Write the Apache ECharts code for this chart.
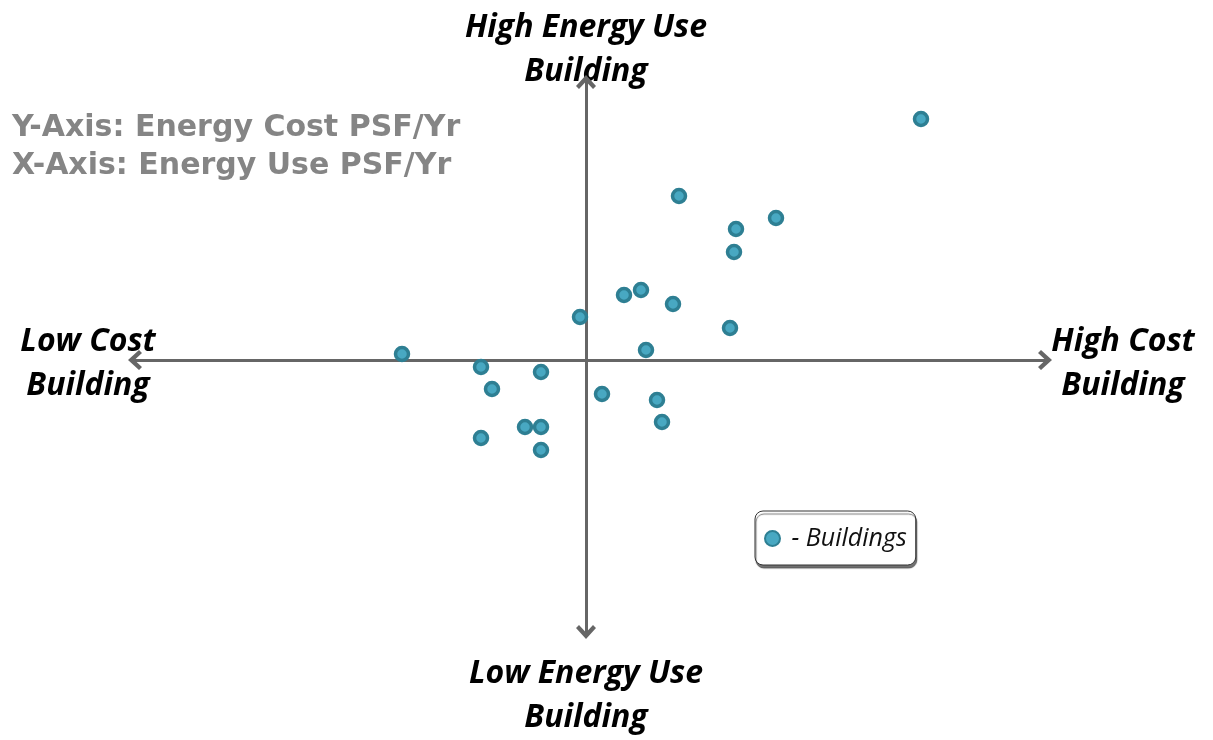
<!DOCTYPE html>
<html>
<head>
<meta charset="utf-8">
<script src="https://cdn.jsdelivr.net/npm/echarts@6/dist/echarts.min.js"></script>
<style>
  html, body { margin: 0; padding: 0; background: #fff; }
  #chart { width: 1213px; height: 740px; }
</style>
</head>
<body>
<div id="chart"></div>
<script>
// energy use (x) vs energy cost (y), centred on the portfolio average
const useValues = [33.5, 9.3, 19.0, 15.0, 14.8, 3.8, 5.5, 8.7, -0.6, 14.4, 6.0,
  -18.4, -10.5, -4.5, -9.4, 1.6, 7.1, 7.6, -6.1, -4.5, -10.5, -4.5];
const costValues = [24.1, 16.4, 14.2, 13.1, 10.8, 6.5, 7.0, 5.6, 4.3, 3.2, 1.0,
  0.6, -0.7, -1.2, -2.9, -3.4, -4.0, -6.2, -6.7, -6.7, -7.8, -9.0];
const seriesName = ' - Buildings';

const points = useValues.map((x, i) => [x, costValues[i]]);

const chart = echarts.init(document.getElementById('chart'));

// open chevron pointing up, echarts rotates it along the axis
const chevron = 'path://M0,11 L10,0 L20,11 L17,14 L10,6.5 L3,14 Z';
const axisLine = {
  onZero: true,
  symbol: [chevron, chevron],
  symbolSize: [20, 14],
  lineStyle: { color: '#666666', width: 3 }
};
const labelFont = '"Open Sans", Lato, sans-serif';

const corner = (x, y, lines) => ({
  type: 'text',
  style: {
    x: x,
    y: y,
    text: lines,
    font: 'italic bold 32px ' + labelFont,
    fill: '#000',
    textAlign: 'center',
    textVerticalAlign: 'top',
    lineHeight: 44
  }
});

chart.setOption({
  animation: false,
  grid: { left: 135, right: 168, top: 82, bottom: 108 },
  xAxis: {
    type: 'value', min: -45.1, max: 45.9,
    axisLine: axisLine,
    axisTick: { show: false }, axisLabel: { show: false }, splitLine: { show: false }
  },
  yAxis: {
    type: 'value', min: -27.2, max: 27.8,
    axisLine: axisLine,
    axisTick: { show: false }, axisLabel: { show: false }, splitLine: { show: false }
  },
  legend: {
    data: [seriesName],
    left: 755, top: 511,
    padding: [15, 9, 14, 9],
    itemWidth: 15, itemHeight: 15, itemGap: 5,
    backgroundColor: '#fff',
    borderColor: '#333', borderWidth: 1, borderRadius: 8,
    shadowColor: 'rgba(0,0,0,0.55)', shadowOffsetX: 1, shadowOffsetY: 3, shadowBlur: 1,
    textStyle: { fontFamily: labelFont, fontStyle: 'italic', fontSize: 25, color: '#111' }
  },
  series: [{
    name: seriesName,
    type: 'scatter',
    data: points,
    symbolSize: 13,
    itemStyle: { color: '#48a8c2', borderColor: '#2e7f93', borderWidth: 3.5, opacity: 1 }
  }],
  graphic: [
    corner(586, 6, 'High Energy Use\nBuilding'),
    corner(586, 652, 'Low Energy Use\nBuilding'),
    corner(88, 320, 'Low Cost\nBuilding'),
    corner(1123, 320, 'High Cost\nBuilding'),
    {
      type: 'text', left: 12, top: 109,
      style: {
        text: 'Y-Axis: Energy Cost PSF/Yr\nX-Axis: Energy Use PSF/Yr',
        font: 'bold 30px "DejaVu Sans", Verdana, sans-serif',
        fill: '#858585',
        lineHeight: 38
      }
    }
  ]
});
</script>
</body>
</html>
